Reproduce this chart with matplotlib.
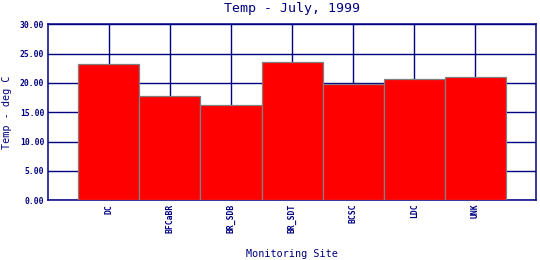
import matplotlib

matplotlib.use('Agg')
import matplotlib.pyplot as plt

sites = ['DC', 'BFCaBR', 'BR_SDB', 'BR_SDT', 'BCSC', 'LDC', 'UNK']
temps = [23.18, 17.73, 16.19, 23.52, 19.77, 20.73, 20.96]
yticks = [0, 5, 10, 15, 20, 25, 30]

navy = '#000080'
mono = 'DejaVu Sans Mono'

fig = plt.figure(figsize=(5.4, 2.6), dpi=100)
ax = fig.add_axes([0.0883, 0.2296, 0.9052, 0.6769])

pos = list(range(len(sites)))
ax.bar(pos, temps, width=1.0, color='#ff0000', edgecolor='#808080',
       linewidth=0.9, zorder=3)

ax.set_xlim(-1, len(sites))
ax.set_ylim(0, 30)
ax.set_yticks(yticks)
ax.set_yticklabels([f'{v:.2f}' for v in yticks], family=mono, fontsize=5.8,
                   weight='bold', color=navy)
ax.set_xticks(pos)
ax.set_xticklabels(sites, rotation=90, family=mono, fontsize=5.8,
                   weight='bold', color=navy)
ax.tick_params(length=0, pad=2.5)

ax.set_axisbelow(True)
ax.grid(True, color=navy, linewidth=1.0)
for sp in ax.spines.values():
    sp.set_color(navy)
    sp.set_linewidth(1.1)

ax.text(0.5, 1.09, 'Temp - July, 1999', transform=ax.transAxes,
        family=mono, fontsize=9.5, color=navy, ha='center', va='center')
ax.set_xlabel('Monitoring Site', family=mono, fontsize=7.3, color=navy)
ax.set_ylabel('Temp - deg C', family=mono, fontsize=7.3, color=navy)
ax.xaxis.set_label_coords(0.5, -0.305)
ax.yaxis.set_label_coords(-0.084, 0.5)
ax.xaxis.label.set_va('center')
ax.yaxis.label.set_va('center')

fig.savefig('out.png', dpi=100)
